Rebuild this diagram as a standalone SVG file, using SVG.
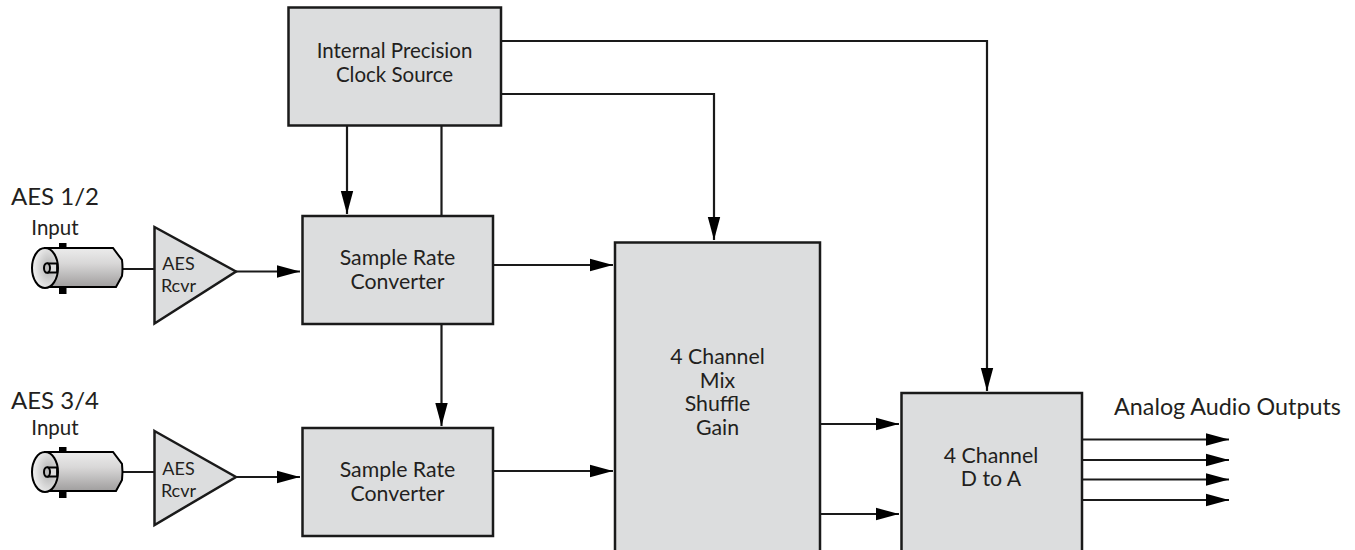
<svg xmlns="http://www.w3.org/2000/svg" width="1355" height="550" viewBox="0 0 1355 550">
<style>
.box{fill:#dcddde;stroke:#1a1a1a;stroke-width:2.5}
.wire{fill:none;stroke:#1a1a1a;stroke-width:2.2}
.head{fill:#000}
text{font-family:"Lato","Liberation Sans",sans-serif;font-size:20.5px;fill:#231f20;text-anchor:middle}
.big{font-size:24px}
.out{font-size:23.3px}
.small{font-size:18px}
.mid{font-size:21.3px}
</style>
<defs>
<linearGradient id="barrel" x1="0" y1="0" x2="0" y2="1">
<stop offset="0" stop-color="#ececec"/><stop offset="0.4" stop-color="#d8d7d7"/><stop offset="1" stop-color="#a09e9e"/>
</linearGradient>
<radialGradient id="face" cx="0.65" cy="0.5" r="0.65">
<stop offset="0" stop-color="#b0b0b0"/><stop offset="1" stop-color="#f4f4f4"/>
</radialGradient>
<marker id="arr" markerUnits="userSpaceOnUse" markerWidth="24" markerHeight="14" refX="23" refY="7" orient="auto">
<path class="head" d="M0 0.800 L23 7 L0 13.200 Z"/>
</marker>
<g id="bnc">
<rect x="-4" y="-25" width="7.500" height="51" fill="#000"/>
<path d="M-18 -20 H50 L59 -8 Q60 0 59 8 L53 19 H-18 Z" fill="url(#barrel)" stroke="#000" stroke-width="2"/>
<ellipse cx="-18" cy="0" rx="13" ry="20" fill="url(#face)" stroke="#000" stroke-width="2"/>
<path d="M-16 -4.500 H-6 V4.500 H-16" fill="#ddd" stroke="#000" stroke-width="1.800"/>
<ellipse cx="-16" cy="0" rx="3" ry="4.800" fill="#bbb" stroke="#000" stroke-width="2"/>
</g>
</defs>
<g id="connectors">
<path class="wire" d="M347 126 V214" marker-end="url(#arr)"/>
<path class="wire" d="M441.500 126 V216"/>
<path class="wire" d="M501 41 H987 V391" marker-end="url(#arr)"/>
<path class="wire" d="M501 94 H714 V240" marker-end="url(#arr)"/>
<path class="wire" d="M441.500 324 V426" marker-end="url(#arr)"/>
<path class="wire" d="M122 269 H155"/>
<path class="wire" d="M122 472 H155"/>
<path class="wire" d="M236 271.500 H300" marker-end="url(#arr)"/>
<path class="wire" d="M236 477 H300" marker-end="url(#arr)"/>
<path class="wire" d="M493 265 H613" marker-end="url(#arr)"/>
<path class="wire" d="M493 471 H613" marker-end="url(#arr)"/>
<path class="wire" d="M820 424 H899" marker-end="url(#arr)"/>
<path class="wire" d="M820 514 H899" marker-end="url(#arr)"/>
<path class="wire" d="M1082 439.500 H1229" marker-end="url(#arr)"/>
<path class="wire" d="M1082 460 H1229" marker-end="url(#arr)"/>
<path class="wire" d="M1082 479.500 H1229" marker-end="url(#arr)"/>
<path class="wire" d="M1082 500 H1229" marker-end="url(#arr)"/>
</g>
<g id="clock"><rect class="box" x="288.500" y="7.500" width="212.500" height="118"/>
<text x="394.500" y="58">Internal Precision</text><text x="394.500" y="82">Clock Source</text></g>
<g id="src1"><rect class="box" x="302.500" y="216" width="190.500" height="108"/>
<text class="mid" x="397.500" y="265">Sample Rate</text><text class="mid" x="397.500" y="289">Converter</text></g>
<g id="src2"><rect class="box" x="302.500" y="428" width="190.500" height="108"/>
<text class="mid" x="397.500" y="477">Sample Rate</text><text class="mid" x="397.500" y="501">Converter</text></g>
<g id="mix"><rect class="box" x="615" y="242.500" width="205" height="320"/>
<text class="mid" x="717.500" y="364">4 Channel</text><text class="mid" x="717.500" y="388">Mix</text><text class="mid" x="717.500" y="411">Shuffle</text><text class="mid" x="717.500" y="435">Gain</text></g>
<g id="dac"><rect class="box" x="901.500" y="393" width="180.500" height="170"/>
<text class="mid" x="991" y="463">4 Channel</text><text class="mid" x="991" y="486">D to A</text></g>
<g id="rcvr1"><path class="box" d="M154.500 227 L236 271.500 L154.500 323.500 Z"/>
<text class="small" x="178.500" y="270">AES</text><text class="small" x="178.500" y="292">Rcvr</text></g>
<g id="rcvr2"><path class="box" d="M154.500 431 L236 477 L154.500 525 Z"/>
<text class="small" x="178.500" y="475">AES</text><text class="small" x="178.500" y="497">Rcvr</text></g>
<g id="bnc1"><use href="#bnc" transform="translate(63,268)"/></g>
<g id="bnc2"><use href="#bnc" transform="translate(63,472)"/></g>
<g id="label1"><text class="big" x="55" y="205">AES 1/2</text><text x="55" y="235">Input</text></g>
<g id="label2"><text class="big" x="55" y="409">AES 3/4</text><text x="55" y="435">Input</text></g>
<g id="outputs"><text class="out" x="1227.500" y="415">Analog Audio Outputs</text></g>
</svg>
